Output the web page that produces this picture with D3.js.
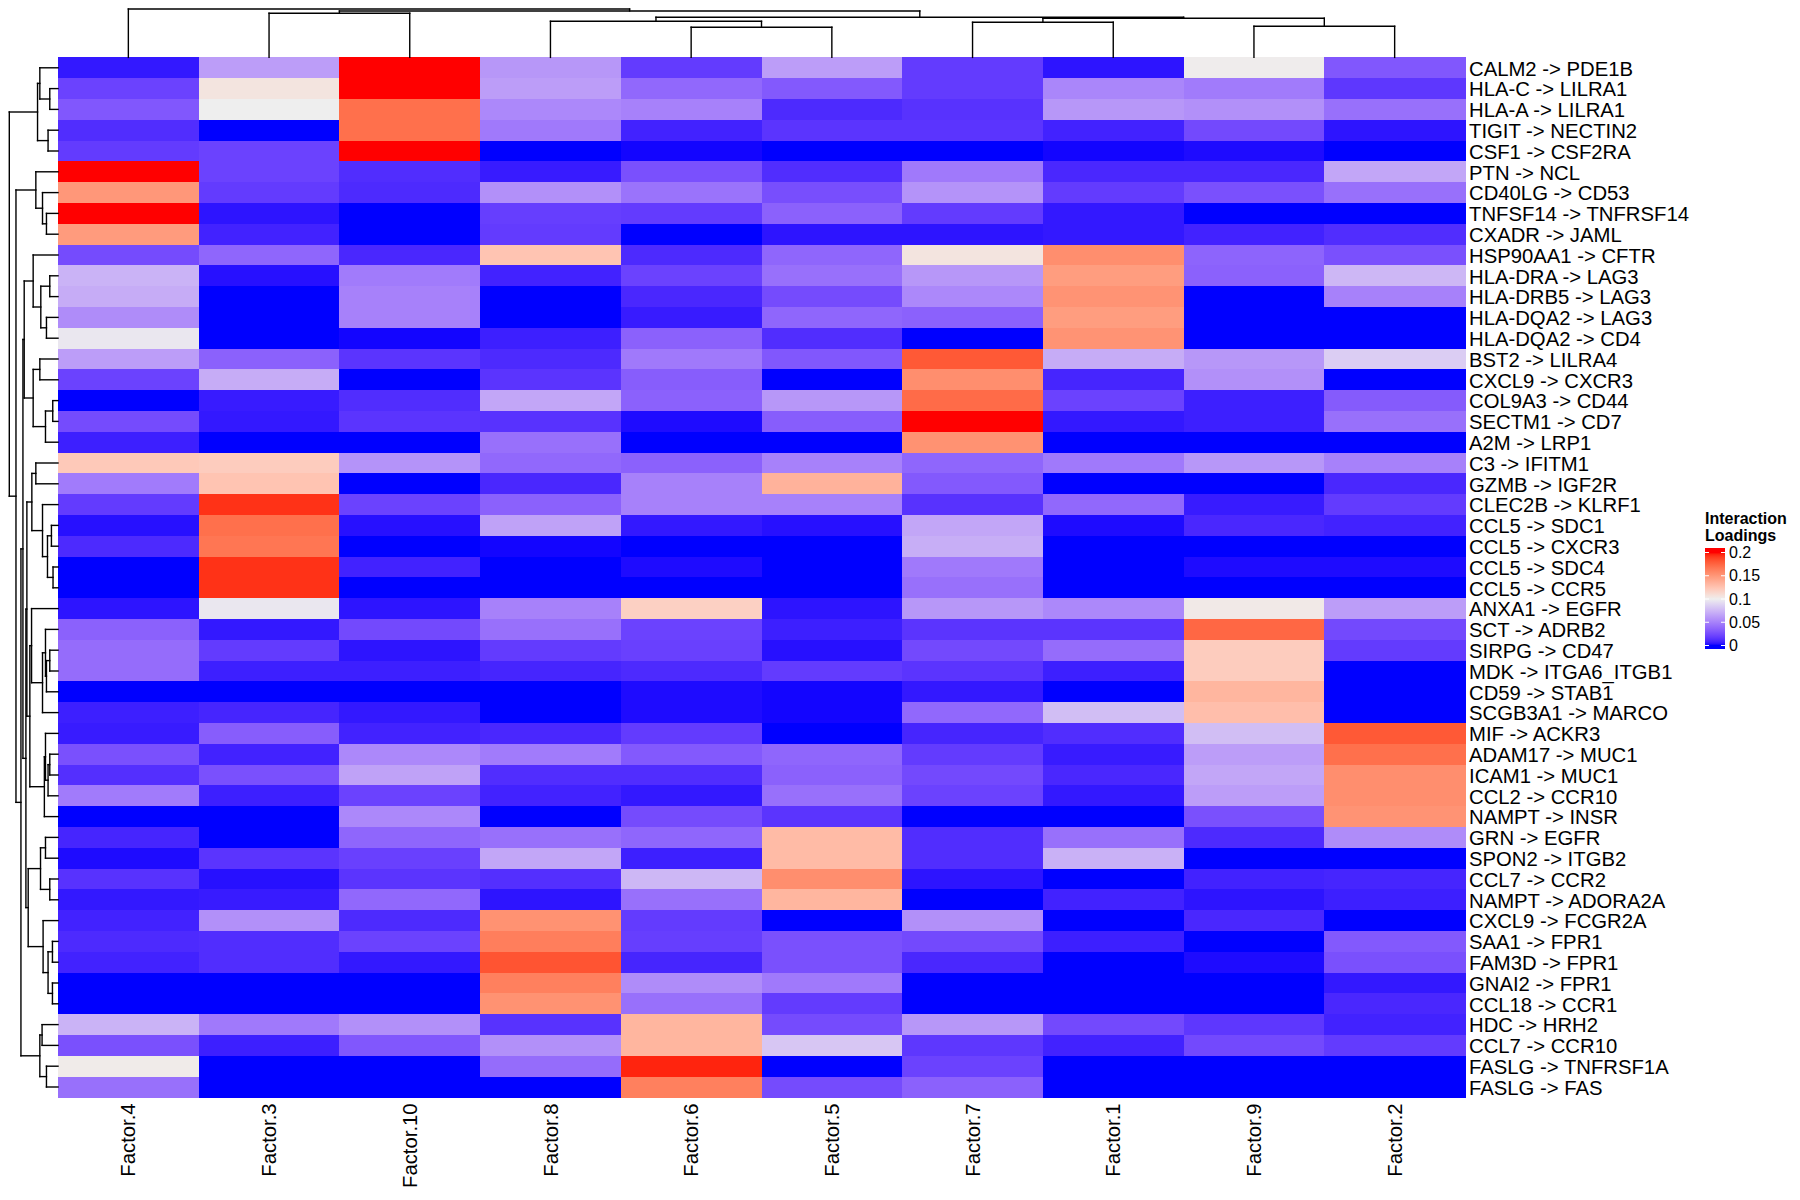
<!DOCTYPE html>
<html><head><meta charset="utf-8">
<script src="https://cdn.jsdelivr.net/npm/d3@7"></script>
<style>
body{margin:0;background:#fff;}
svg{display:block;}
text{font-family:"Liberation Sans",Arial,Helvetica,sans-serif;fill:#000;}
</style>
</head><body>
<svg id="chart" width="1800" height="1200"></svg>
<script>
// ---- data (display order) ----
const factors = ["Factor.4","Factor.3","Factor.10","Factor.8","Factor.6","Factor.5","Factor.7","Factor.1","Factor.9","Factor.2"];
const interactions = [
"CALM2 -> PDE1B","HLA-C -> LILRA1","HLA-A -> LILRA1","TIGIT -> NECTIN2","CSF1 -> CSF2RA",
"PTN -> NCL","CD40LG -> CD53","TNFSF14 -> TNFRSF14","CXADR -> JAML","HSP90AA1 -> CFTR",
"HLA-DRA -> LAG3","HLA-DRB5 -> LAG3","HLA-DQA2 -> LAG3","HLA-DQA2 -> CD4","BST2 -> LILRA4",
"CXCL9 -> CXCR3","COL9A3 -> CD44","SECTM1 -> CD7","A2M -> LRP1","C3 -> IFITM1",
"GZMB -> IGF2R","CLEC2B -> KLRF1","CCL5 -> SDC1","CCL5 -> CXCR3","CCL5 -> SDC4",
"CCL5 -> CCR5","ANXA1 -> EGFR","SCT -> ADRB2","SIRPG -> CD47","MDK -> ITGA6_ITGB1",
"CD59 -> STAB1","SCGB3A1 -> MARCO","MIF -> ACKR3","ADAM17 -> MUC1","ICAM1 -> MUC1",
"CCL2 -> CCR10","NAMPT -> INSR","GRN -> EGFR","SPON2 -> ITGB2","CCL7 -> CCR2",
"NAMPT -> ADORA2A","CXCL9 -> FCGR2A","SAA1 -> FPR1","FAM3D -> FPR1","GNAI2 -> FPR1",
"CCL18 -> CCR1","HDC -> HRH2","CCL7 -> CCR10","FASLG -> TNFRSF1A","FASLG -> FAS"];
const loadings = [
[0.005,0.063,0.21,0.06,0.018,0.063,0.018,0.004,0.101,0.03],
[0.021,0.106,0.21,0.063,0.038,0.031,0.018,0.052,0.047,0.016],
[0.03,0.1,0.17,0.053,0.05,0.011,0.014,0.06,0.057,0.042],
[0.012,0,0.17,0.046,0.008,0.015,0.015,0.008,0.024,0.004],
[0.018,0.021,0.2,0,0.001,0,0,0.001,0.002,0],
[0.2,0.021,0.012,0.006,0.027,0.012,0.046,0.01,0.01,0.067],
[0.15,0.018,0.011,0.057,0.043,0.026,0.058,0.018,0.027,0.042],
[0.2,0.004,0,0.019,0.018,0.035,0.018,0.005,0,0],
[0.148,0.008,0,0.018,0,0.004,0.004,0.005,0.008,0.012],
[0.025,0.037,0.01,0.125,0.011,0.037,0.106,0.155,0.036,0.027],
[0.073,0.003,0.047,0.008,0.021,0.042,0.06,0.147,0.035,0.075],
[0.07,0,0.05,0,0.01,0.025,0.053,0.152,0,0.05],
[0.055,0,0.05,0,0.006,0.037,0.035,0.147,0,0],
[0.097,0,0.001,0.007,0.035,0.012,0,0.152,0,0],
[0.063,0.035,0.015,0.011,0.046,0.03,0.18,0.07,0.06,0.085],
[0.021,0.07,0,0.015,0.033,0,0.155,0.009,0.057,0],
[0,0.006,0.012,0.067,0.035,0.06,0.172,0.021,0.007,0.032],
[0.025,0.005,0.015,0.014,0.002,0.033,0.2,0.005,0.007,0.042],
[0.007,0,0,0.042,0,0,0.153,0,0,0],
[0.122,0.12,0.058,0.038,0.035,0.05,0.037,0.046,0.06,0.05],
[0.047,0.125,0,0.01,0.05,0.135,0.031,0,0,0.01],
[0.018,0.193,0.021,0.035,0.05,0.05,0.014,0.038,0.006,0.018],
[0.003,0.17,0.003,0.065,0.005,0.003,0.067,0.002,0.01,0.008],
[0.011,0.167,0,0.001,0,0,0.071,0,0,0],
[0,0.193,0.008,0,0.002,0,0.046,0,0.002,0.002],
[0,0.193,0,0,0,0,0.042,0,0,0],
[0.004,0.097,0.004,0.05,0.118,0.004,0.06,0.053,0.103,0.063],
[0.035,0.005,0.024,0.042,0.021,0.007,0.015,0.015,0.174,0.024],
[0.04,0.018,0.004,0.018,0.02,0.003,0.024,0.04,0.12,0.018],
[0.04,0.007,0.007,0.009,0.011,0.018,0.015,0.007,0.12,0],
[0,0,0,0,0.002,0.001,0.005,0,0.133,0],
[0.007,0.009,0.005,0,0.002,0.001,0.038,0.078,0.128,0],
[0.006,0.033,0.008,0.01,0.018,0,0.009,0.012,0.078,0.18],
[0.027,0.008,0.053,0.047,0.031,0.037,0.018,0.006,0.063,0.17],
[0.013,0.027,0.065,0.012,0.012,0.035,0.024,0.01,0.067,0.155],
[0.047,0.007,0.021,0.008,0.005,0.042,0.021,0.005,0.063,0.155],
[0,0,0.053,0,0.025,0.015,0,0,0.027,0.152],
[0.009,0,0.037,0.042,0.037,0.13,0.012,0.042,0.011,0.055],
[0.002,0.015,0.02,0.067,0.007,0.13,0.012,0.072,0,0],
[0.014,0.003,0.015,0.013,0.075,0.155,0.004,0,0.008,0.009],
[0.005,0.006,0.038,0.004,0.042,0.133,0,0.008,0.004,0.007],
[0.008,0.057,0.011,0.153,0.018,0,0.057,0,0.01,0],
[0.011,0.012,0.021,0.163,0.019,0.027,0.024,0.007,0,0.031],
[0.008,0.012,0.005,0.182,0.009,0.027,0.01,0,0.002,0.027],
[0,0,0,0.162,0.055,0.046,0,0,0,0.005],
[0,0,0,0.153,0.042,0.018,0,0,0,0.01],
[0.073,0.046,0.057,0.014,0.133,0.025,0.06,0.024,0.016,0.008],
[0.027,0.007,0.03,0.057,0.133,0.082,0.016,0.008,0.024,0.018],
[0.102,0,0,0.04,0.196,0,0.021,0,0,0],
[0.042,0,0,0,0.162,0.025,0.035,0,0,0]];

// dendrograms: leaves are display indices, h = relative merge height
const colTree = {h:1.0,c:[0,{h:0.959,c:[{h:0.911,c:[1,2]},{h:0.829,c:[{h:0.746,c:[3,{h:0.622,c:[4,5]}]},{h:0.808,c:[{h:0.725,c:[6,7]},{h:0.643,c:[8,9]}]}]}]}]};

const rowA  = {h:0.42,c:[{h:0.373,c:[0,{h:0.169,c:[1,2]}]},{h:0.204,c:[3,4]}]};
const rowB1 = {h:0.455,c:[5,{h:0.318,c:[6,{h:0.237,c:[7,8]}]}]};
const rowC  = {h:0.694,c:[{h:0.51,c:[9,{h:0.353,c:[{h:0.169,c:[10,11]},{h:0.237,c:[12,13]}]}]},
                          {h:0.51,c:[{h:0.373,c:[14,15]},{h:0.257,c:[{h:0.108,c:[16,17]},18]}]}]};
const rowD1a = {h:0.537,c:[{h:0.455,c:[19,20]},{h:0.318,c:[21,{h:0.216,c:[{h:0.135,c:[22,23]},{h:0.102,c:[24,25]}]}]}]};
const rowD1b = {h:0.578,c:[{h:0.543,c:[26,{h:0.318,c:[{h:0.257,c:[27,{h:0.237,c:[{h:0.169,c:[28,29]},30]}]},31]}]},
                           {h:0.28,c:[{h:0.257,c:[32,{h:0.204,c:[{h:0.169,c:[33,34]},35]}]},36]}]};
const rowD2 = {h:0.612,c:[{h:0.359,c:[{h:0.257,c:[37,38]},{h:0.169,c:[39,40]}]},
                          {h:0.306,c:[41,{h:0.204,c:[{h:0.114,c:[42,43]},{h:0.114,c:[44,45]}]}]}]};
const rowB2b = {h:0.373,c:[{h:0.327,c:[46,47]},{h:0.237,c:[48,49]}]};
const rowTree = {h:1.0,c:[rowA,{h:0.863,c:[rowB1,{h:0.761,c:[{h:0.72,c:[rowC,{h:0.659,c:[{h:0.639,c:[rowD1a,rowD1b]},rowD2]}]},rowB2b]}]}]};

const legendTitle = ["Interaction","Loadings"];
const legendBreaks = [0,0.05,0.1,0.15,0.2];
const colorStops = ["#0000ff","#eeeeee","#ff0000"];

// ---- drawing ----
const svg = d3.select("#chart");
const hx0 = 58, hx1 = 1465, hy0 = 57.4, hy1 = 1097.4;

const xScale = d3.scaleBand().domain(d3.range(factors.length)).range([hx0,hx1]).padding(0);
const yScale = d3.scaleBand().domain(d3.range(interactions.length)).range([hy0,hy1]).padding(0);
const color = d3.scaleLinear().domain([0,0.1,0.2]).range(colorStops).interpolate(d3.interpolateLab).clamp(true);

const cells = [];
loadings.forEach((row,i)=>row.forEach((v,j)=>cells.push({i,j,v})));
svg.append("g").selectAll("rect").data(cells).join("rect")
  .attr("x",d=>xScale(d.j)).attr("y",d=>yScale(d.i))
  .attr("width",xScale.bandwidth()+0.5).attr("height",yScale.bandwidth()+0.5)
  .attr("fill",d=>color(d.v)).attr("shape-rendering","crispEdges");

// dendrogram helper
function drawDendro(g, tree, leafPos, hPos, horizontal){
  function rec(node){
    if(typeof node === "number") return {p:leafPos(node), h:0};
    const kids = node.c.map(rec);
    kids.forEach(k=>{
      if(!horizontal) g.append("line").attr("x1",k.p).attr("x2",k.p).attr("y1",hPos(k.h)).attr("y2",hPos(node.h));
      else g.append("line").attr("y1",k.p).attr("y2",k.p).attr("x1",hPos(k.h)).attr("x2",hPos(node.h));
    });
    const pmin = d3.min(kids,k=>k.p), pmax = d3.max(kids,k=>k.p);
    if(!horizontal) g.append("line").attr("x1",pmin).attr("x2",pmax).attr("y1",hPos(node.h)).attr("y2",hPos(node.h));
    else g.append("line").attr("y1",pmin).attr("y2",pmax).attr("x1",hPos(node.h)).attr("x2",hPos(node.h));
    return {p:(kids[0].p+kids[kids.length-1].p)/2, h:node.h};
  }
  rec(tree);
}
const gCol = svg.append("g").attr("stroke","#000").attr("stroke-width",1.4).attr("stroke-linecap","square");
drawDendro(gCol, colTree, j=>xScale(j)+xScale.bandwidth()/2, d3.scaleLinear().domain([0,1]).range([hy0,9]), false);
const gRow = svg.append("g").attr("stroke","#000").attr("stroke-width",1.4).attr("stroke-linecap","square");
drawDendro(gRow, rowTree, i=>yScale(i)+yScale.bandwidth()/2, d3.scaleLinear().domain([0,1]).range([hx0,9.3]), true);

// row labels
svg.append("g").selectAll("text").data(interactions).join("text")
  .attr("x",hx1+4).attr("y",(d,i)=>yScale(i)+yScale.bandwidth()/2).attr("dy","0.38em")
  .attr("font-size","20.3px").text(d=>d);

// column labels
svg.append("g").selectAll("text").data(factors).join("text")
  .attr("transform",(d,j)=>`translate(${xScale(j)+xScale.bandwidth()/2},${hy1+6}) rotate(-90)`)
  .attr("text-anchor","end").attr("dy","0.35em").attr("font-size","20.3px").text(d=>d);

// legend
const lg = svg.append("g");
lg.selectAll("text.title").data(legendTitle).join("text").attr("class","title")
  .attr("x",1705).attr("y",(d,i)=>524+i*17).attr("font-size","16px").attr("font-weight","bold").text(d=>d);
const lScale = d3.scaleLinear().domain([0,0.2]).range([645.5,552.5]);
const grad = svg.append("defs").append("linearGradient").attr("id","lgGrad")
  .attr("gradientUnits","userSpaceOnUse").attr("x1",0).attr("x2",0).attr("y1",lScale(0)).attr("y2",lScale(0.2));
d3.range(0,1.0001,0.02).forEach(t=>grad.append("stop").attr("offset",t).attr("stop-color",color(t*0.2)));
lg.append("rect").attr("x",1705).attr("y",548).attr("width",20).attr("height",101).attr("fill","url(#lgGrad)");
lg.selectAll("line.tl").data(legendBreaks).join("line").attr("class","tl")
  .attr("x1",1705).attr("x2",1709).attr("y1",d=>lScale(d)).attr("y2",d=>lScale(d)).attr("stroke","#fff").attr("stroke-width",1);
lg.selectAll("line.tr").data(legendBreaks).join("line").attr("class","tr")
  .attr("x1",1721).attr("x2",1725).attr("y1",d=>lScale(d)).attr("y2",d=>lScale(d)).attr("stroke","#fff").attr("stroke-width",1);
lg.selectAll("text.lab").data(legendBreaks).join("text").attr("class","lab")
  .attr("x",1729).attr("y",d=>lScale(d)).attr("dy","0.35em").attr("font-size","16px").text(d=>d3.format("~g")(d));
</script>
</body></html>
